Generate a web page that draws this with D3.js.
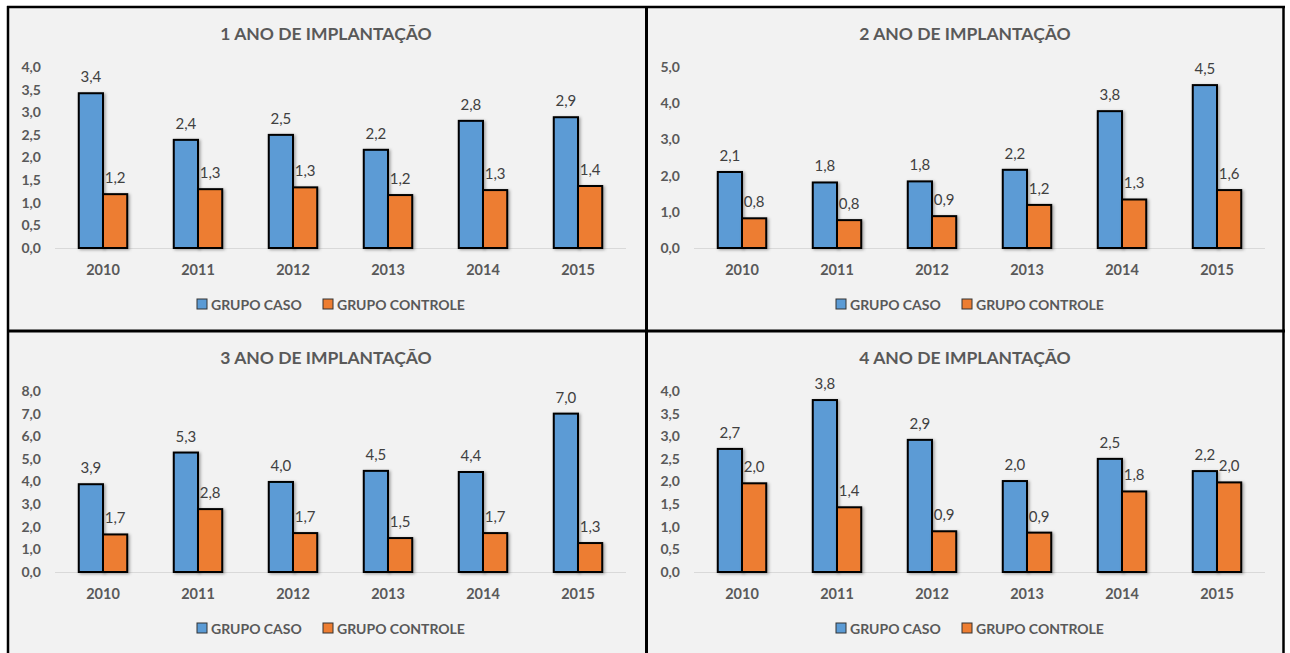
<!DOCTYPE html>
<html><head><meta charset="utf-8">
<script src="https://cdn.jsdelivr.net/npm/d3@7"></script>
<style>
html,body{margin:0;padding:0;background:#fff;}
svg{display:block;font-family:Lato,"Open Sans",sans-serif;}
</style></head>
<body>
<svg id="c" width="1290" height="653"></svg>
<script>
const years = ["2010","2011","2012","2013","2014","2015"];
const titles = ["1 ANO DE IMPLANTAÇÃO","2 ANO DE IMPLANTAÇÃO","3 ANO DE IMPLANTAÇÃO","4 ANO DE IMPLANTAÇÃO"];
const seriesNames = ["GRUPO CASO","GRUPO CONTROLE"];
const caso1 = [3.42,2.39,2.50,2.17,2.81,2.89];
const controle1 = [1.19,1.30,1.34,1.17,1.28,1.37];
const caso2 = [2.10,1.81,1.84,2.16,3.78,4.50];
const controle2 = [0.82,0.77,0.88,1.19,1.34,1.60];
const caso3 = [3.88,5.28,3.98,4.47,4.42,7.00];
const controle3 = [1.66,2.78,1.72,1.50,1.72,1.28];
const caso4 = [2.72,3.80,2.92,2.01,2.50,2.23];
const controle4 = [1.96,1.43,0.90,0.87,1.78,1.98];
const yMaxes = [4,5,8,4];
const ySteps = [0.5,1,1,0.5];

const colors = ["#5B9BD5","#ED7D31"];
const svg = d3.select("#c");
const defs = svg.append("defs");
const f = defs.append("filter").attr("id","sh").attr("x","-30%").attr("y","-30%").attr("width","160%").attr("height","160%");
f.append("feDropShadow").attr("dx",1.5).attr("dy",1).attr("stdDeviation",1.5).attr("flood-color","#000").attr("flood-opacity",0.35);

svg.append("rect").attr("x",8).attr("y",7).attr("width",1276).attr("height",660).attr("fill","#f2f2f2");

const panels = [
  {ox:8, oy:7, caso:caso1, ctrl:controle1},
  {ox:647, oy:7, caso:caso2, ctrl:controle2},
  {ox:8, oy:331, caso:caso3, ctrl:controle3},
  {ox:647, oy:331, caso:caso4, ctrl:controle4}
];
const fmt = v => d3.format(".1f")(v).replace(".",",");

panels.forEach((p,i)=>{
  const g = svg.append("g").attr("transform",`translate(${p.ox},${p.oy})`);
  const x0 = d3.scaleBand().domain(years).range([47.5,617.5]).padding(0);
  const bw = x0.bandwidth();
  const x1 = d3.scaleBand().domain([0,1]).range([bw*0.245, bw*0.755]).padding(0);
  const y = d3.scaleLinear().domain([0,yMaxes[i]]).range([241,60]);
  const ticks = d3.range(0, yMaxes[i]+1e-9, ySteps[i]);

  g.append("text").attr("x",318).attr("y",33).attr("text-anchor","middle")
    .attr("font-size",17.5).attr("font-weight","bold").attr("fill","#595959").text(titles[i]);

  const yAxis = d3.axisLeft(y).tickValues(ticks).tickFormat(fmt).tickSize(0).tickPadding(0);
  const ya = g.append("g").attr("transform","translate(33,0)").call(yAxis);
  ya.select(".domain").remove();
  ya.selectAll("text").attr("font-size",14).attr("font-weight","bold").attr("fill","#595959")
    .attr("font-family","Lato,sans-serif");

  g.append("line").attr("x1",47).attr("x2",618).attr("y1",y(0)+0.5).attr("y2",y(0)+0.5)
    .attr("stroke","#d9d9d9").attr("stroke-width",1);

  const xAxis = d3.axisBottom(x0).tickSize(0).tickPadding(0);
  const xa = g.append("g").attr("transform",`translate(0,${y(0)+16.5})`).call(xAxis);
  xa.select(".domain").remove();
  xa.selectAll("text").attr("font-size",14.5).attr("font-weight","bold").attr("fill","#595959")
    .attr("font-family","Lato,sans-serif");

  const data = [];
  years.forEach((yr,j)=>{
    data.push({yr, s:0, v:p.caso[j]});
    data.push({yr, s:1, v:p.ctrl[j]});
  });
  g.append("g").selectAll("rect").data(data).join("rect")
    .attr("x",d=>x0(d.yr)+x1(d.s)).attr("width",x1.bandwidth())
    .attr("y",d=>y(d.v)).attr("height",d=>y(0)-y(d.v))
    .attr("fill",d=>colors[d.s]).attr("stroke","#000").attr("stroke-width",2)
    .attr("filter","url(#sh)");
  g.append("g").selectAll("text").data(data).join("text")
    .attr("x",d=>x0(d.yr)+x1(d.s)+x1.bandwidth()/2).attr("y",d=>y(d.v)-11)
    .attr("text-anchor","middle").attr("font-size",15).attr("fill","#404040").text(d=>fmt(d.v));

  const lg = g.append("g");
  const lx = [189, 315];
  seriesNames.forEach((n,k)=>{
    lg.append("rect").attr("x",lx[k]).attr("y",292).attr("width",10).attr("height",10)
      .attr("fill",colors[k]).attr("stroke","#333").attr("stroke-width",1);
    lg.append("text").attr("x",lx[k]+14).attr("y",302.5).attr("font-size",14).attr("font-weight","bold")
      .attr("fill","#595959").text(n);
  });
});

const bl = svg.append("g").attr("stroke","#000").attr("fill","none");
bl.append("line").attr("x1",8).attr("x2",8).attr("y1",6).attr("y2",653).attr("stroke-width",2.5);
bl.append("line").attr("x1",7).attr("x2",1285).attr("y1",7).attr("y2",7).attr("stroke-width",2.5);
bl.append("line").attr("x1",1283.5).attr("x2",1283.5).attr("y1",6).attr("y2",653).attr("stroke-width",2.5);
bl.append("line").attr("x1",646.5).attr("x2",646.5).attr("y1",6).attr("y2",653).attr("stroke-width",3);
bl.append("line").attr("x1",7).attr("x2",1285).attr("y1",331).attr("y2",331).attr("stroke-width",3);
</script>
</body></html>
